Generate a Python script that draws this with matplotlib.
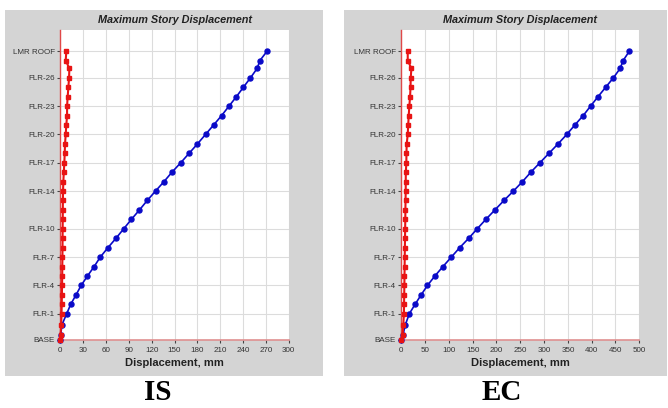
import matplotlib
matplotlib.use("Agg")
import matplotlib.pyplot as plt
from matplotlib.patches import Rectangle

plt.rcParams['font.family'] = ['Liberation Sans', 'DejaVu Sans']

# story elevations (m), bottom to top
elevations = [0, 1.5, 4.7, 8.2, 11.2, 14.2, 17.2, 20.2, 23.2, 26.2, 29.2, 32.2,
              35.2, 38.2, 41.2, 44.2, 47.2, 50.2, 53.2, 56.2, 59.2, 62.2, 65.2,
              68.2, 71.2, 74.2, 77.2, 80.2, 83.2, 86.2, 88.7, 91.6]
tick_index = [0, 3, 6, 9, 12, 16, 19, 22, 25, 28, 31]
tick_labels = ['BASE', 'FLR-1', 'FLR-4', 'FLR-7', 'FLR-10', 'FLR-14',
               'FLR-17', 'FLR-20', 'FLR-23', 'FLR-26', 'LMR ROOF']

# IS code - displacement (mm)
is_blue = [0, 0.5, 2.2, 8.4, 13.7, 20.7, 27.4, 35.7, 44.5, 52.5, 62.6, 73.2,
           83.3, 93.4, 104.0, 114.2, 125.1, 136.2, 146.7, 158.2, 169.2, 180.2,
           190.8, 201.4, 211.9, 221.6, 231.3, 240.5, 249.8, 258.6, 262.2, 271.4]
is_red = [0, 0.3, 1.2, 1.6, 1.9, 2.1, 2.3, 2.5, 2.6, 2.8, 2.9, 3.0,
          3.1, 3.2, 3.3, 3.4, 3.6, 4.0, 4.6, 5.3, 5.8, 6.2,
          7.1, 7.9, 8.9, 8.9, 9.7, 10.6, 11.5, 11.9, 7.1, 7.9]

# EC code - displacement (mm)
ec_blue = [0, 3.6, 8.5, 16.9, 29.0, 41.7, 55.0, 70.6, 87.6, 105.1, 122.7, 141.7,
           159.5, 177.7, 196.7, 215.7, 235.6, 254.6, 272.2, 291.2, 310.3, 329.3,
           347.7, 364.6, 382.2, 397.6, 413.3, 429.4, 445.6, 459.8, 466.1, 478.8]
ec_red = [0, 2.7, 4.2, 5.5, 5.8, 6.1, 6.4, 6.7, 7.0, 7.2, 7.5, 7.8,
          8.1, 8.4, 8.6, 8.9, 9.3, 9.3, 9.5, 10.6, 10.8, 11.4,
          13.5, 14.5, 15.6, 16.9, 18.4, 19.4, 19.8, 21.2, 13.5, 13.5]

is_xticks = list(range(0, 301, 30))
ec_xticks = list(range(0, 501, 50))

W, H = 668, 408
fig = plt.figure(figsize=(W / 100, H / 100), dpi=100)

panel_grey = '#d4d4d4'
axis_red = '#e04848'


def px_box(x0, y0, x1, y1):
    # pixel box (top-left origin) -> figure fraction [l, b, w, h]
    return [x0 / W, 1 - y1 / H, (x1 - x0) / W, (y1 - y0) / H]


def draw_panel(panel, axbox, blue, red, xticks, name, name_x):
    l, b, w, h = px_box(*panel)
    fig.patches.append(Rectangle((l, b), w, h, transform=fig.transFigure,
                                 facecolor=panel_grey, edgecolor='none', zorder=-10))
    ax = fig.add_axes(px_box(*axbox))
    ax.set_facecolor('white')
    ax.plot(blue, elevations, color='#0a0ac8', lw=1.2, marker='o', ms=3.6,
            clip_on=False, zorder=4)
    ax.plot(red, elevations, color='#e81414', lw=1.5, marker='s', ms=3.3,
            clip_on=False, zorder=5)
    ax.set_xlim(xticks[0], xticks[-1])
    ax.set_ylim(0, 98.4)
    ax.set_xticks(xticks)
    ax.set_yticks([elevations[i] for i in tick_index])
    ax.set_yticklabels(tick_labels)
    ax.grid(True, color='#dcdcdc', lw=0.8)
    ax.set_axisbelow(True)
    for s in ('top', 'right'):
        ax.spines[s].set_visible(False)
    ax.spines['left'].set_color(axis_red)
    ax.spines['bottom'].set_color('#e09090')
    ax.spines['left'].set_linewidth(1.0)
    ax.spines['bottom'].set_linewidth(1.2)
    ax.tick_params(axis='both', length=2.5, width=0.8, color='#444444',
                   labelsize=5.8, labelcolor='#333333', pad=1.5)
    ax.tick_params(axis='x', pad=3)
    ax.set_xlabel('Displacement, mm', fontsize=8, fontweight='bold',
                  color='#222222', labelpad=3)
    ax.set_title('Maximum Story Displacement', fontsize=7.8, fontweight='bold',
                 style='italic', color='#222222', pad=5)
    fig.text(name_x / W, 1 - 393 / H, name, ha='center', va='center',
             fontsize=21, fontweight='bold', family=['Liberation Serif', 'DejaVu Serif'])
    return ax


draw_panel((5, 10, 323, 376), (60.3, 30, 288.7, 339.5), is_blue, is_red,
           is_xticks, 'IS', 158)
draw_panel((344, 10, 667, 376), (401.3, 30, 639.3, 339.5), ec_blue, ec_red,
           ec_xticks, 'EC', 502)

fig.savefig('out.png', dpi=100)
